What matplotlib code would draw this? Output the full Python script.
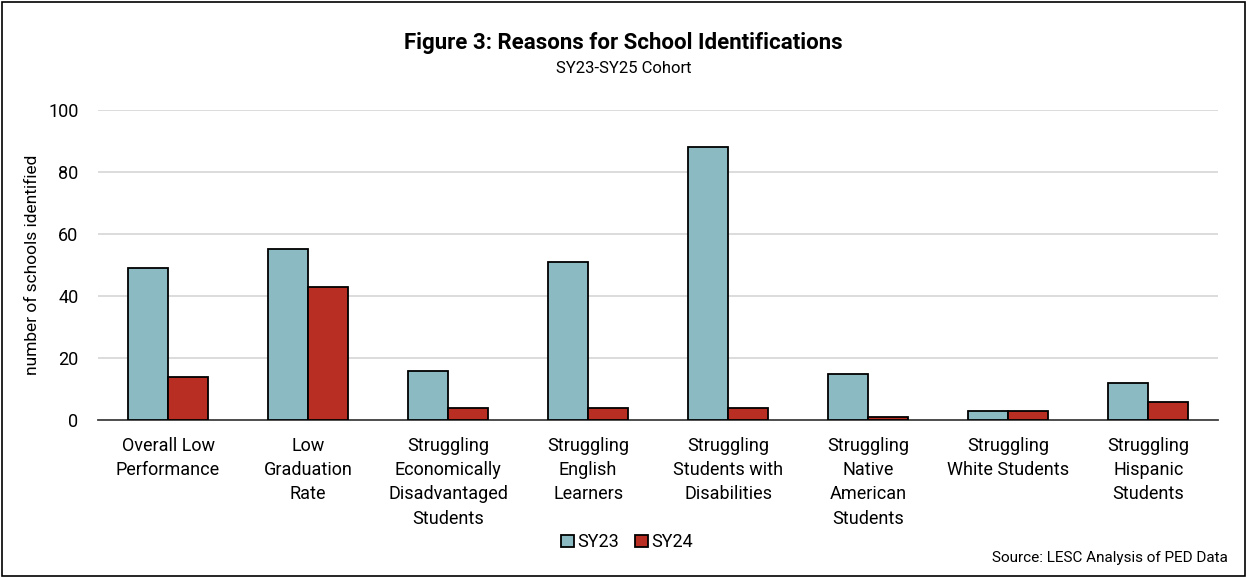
import matplotlib.pyplot as plt
from matplotlib.patches import Rectangle
import numpy as np

plt.rcParams['font.family'] = ['Roboto', 'DejaVu Sans']

categories = [
    "Overall Low\nPerformance",
    "Low\nGraduation\nRate",
    "Struggling\nEconomically\nDisadvantaged\nStudents",
    "Struggling\nEnglish\nLearners",
    "Struggling\nStudents with\nDisabilities",
    "Struggling\nNative\nAmerican\nStudents",
    "Struggling\nWhite Students",
    "Struggling\nHispanic\nStudents",
]
sy23 = [49, 55, 16, 51, 88, 15, 3, 12]
sy24 = [14, 43, 4, 4, 4, 1, 3, 6]

teal = "#8BBAC2"
red = "#B82E22"

fig = plt.figure(figsize=(12.47, 5.78), dpi=100)
ax = fig.add_axes([0.0786, 0.273, 0.8984, 0.537])

x = np.arange(len(categories))
w = 0.286
ax.bar(x - w / 2, sy23, w, color=teal, edgecolor="black", linewidth=1.3, label="SY23", zorder=3)
ax.bar(x + w / 2, sy24, w, color=red, edgecolor="black", linewidth=1.3, label="SY24", zorder=3)

ax.set_xlim(-0.5, len(categories) - 0.5)
ax.set_ylim(0, 100)
ax.set_yticks([0, 20, 40, 60, 80, 100])
ax.yaxis.grid(True, color="#D9D9D9", linewidth=1.3, zorder=0)
ax.set_axisbelow(True)
for s in ["top", "right", "left"]:
    ax.spines[s].set_visible(False)
ax.spines["bottom"].set_color("#404040")
ax.spines["bottom"].set_linewidth(1.3)
ax.tick_params(axis="both", length=0, labelsize=13)
ax.tick_params(axis="y", pad=14)
ax.tick_params(axis="x", pad=12)
ax.set_xticks(x)
ax.set_xticklabels(categories, linespacing=1.45)
ax.set_ylabel("number of schools identified", fontsize=12.5, labelpad=6)

fig.text(0.5, 0.925, "Figure 3: Reasons for School Identifications", ha="center", va="center",
         fontsize=16, fontweight="semibold")
fig.text(0.5, 0.882, "SY23-SY25 Cohort", ha="center", va="center", fontsize=12)

fig.legend(loc="center", bbox_to_anchor=(0.503, 0.062), ncol=2, frameon=False, fontsize=13,
           handlelength=0.7, handleheight=0.7, handletextpad=0.2, columnspacing=0.9)
fig.text(0.985, 0.034, "Source: LESC Analysis of PED Data", ha="right", va="center", fontsize=11)

fig.patches.append(Rectangle((0.002, 0.003), 0.996, 0.994, transform=fig.transFigure,
                             fill=False, edgecolor="black", linewidth=1.2))

fig.savefig("out.png", dpi=100)
